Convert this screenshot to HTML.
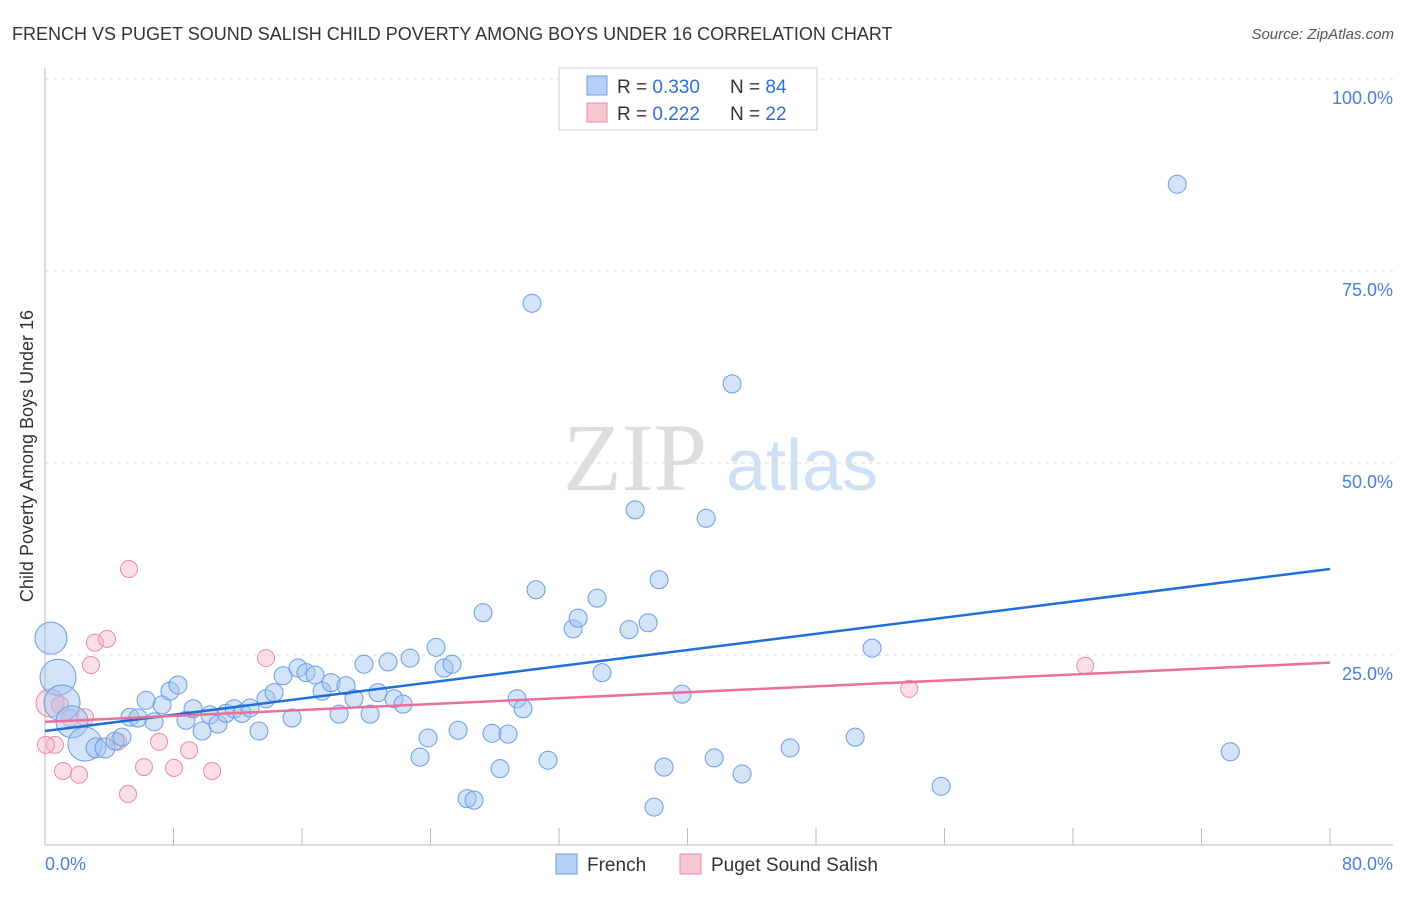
<!DOCTYPE html>
<html><head><meta charset="utf-8"><style>
body{margin:0;background:#fff;font-family:"Liberation Sans",sans-serif}
</style></head><body>
<svg width="1406" height="892" xmlns="http://www.w3.org/2000/svg" font-family="Liberation Sans, sans-serif">
<text x="12" y="40" font-size="18" fill="#333">FRENCH VS PUGET SOUND SALISH CHILD POVERTY AMONG BOYS UNDER 16 CORRELATION CHART</text>
<text x="1394" y="39" font-size="15" fill="#555" font-style="italic" text-anchor="end">Source: ZipAtlas.com</text>
<text transform="translate(33,456) rotate(-90)" font-size="18" fill="#333" text-anchor="middle">Child Poverty Among Boys Under 16</text>
<g>
<text x="635" y="490" font-size="96" fill="#ddd" font-family="Liberation Serif, serif" text-anchor="middle">ZIP</text>
<text x="802" y="490" font-size="72" fill="#cfe0f5" text-anchor="middle">atlas</text>
</g>
<g id="grid"></g>
<g id="axes"></g>
<g id="lines"></g>
<g id="pts"></g>
<g>
<rect x="559" y="68" width="258" height="62" fill="#fff" stroke="#ccc"/>
<rect x="587" y="76" width="20" height="19" fill="#b6d0f5" stroke="#6a9be0"/>
<rect x="587" y="103" width="20" height="19" fill="#f9c6d4" stroke="#e88aa8"/>
<text x="617" y="93" font-size="19" fill="#333">R = <tspan fill="#2f6fd6">0.330</tspan></text>
<text x="730" y="93" font-size="19" fill="#333">N = <tspan fill="#2f6fd6">84</tspan></text>
<text x="617" y="120" font-size="19" fill="#333">R =  <tspan fill="#2f6fd6">0.222</tspan></text>
<text x="730" y="120" font-size="19" fill="#333">N =  <tspan fill="#2f6fd6">22</tspan></text>
</g>
<g>
<rect x="556" y="854" width="21" height="20" fill="#b6d0f5" stroke="#6a9be0"/>
<text x="587" y="871" font-size="19" fill="#333">French</text>
<rect x="680" y="854" width="21" height="20" fill="#f9c6d4" stroke="#e88aa8"/>
<text x="711" y="871" font-size="19" fill="#333">Puget Sound Salish</text>
</g>
</svg>
<script>
const yTicks=[100,75,50,25];
const yTickLabels=["100.0%","75.0%","50.0%","25.0%"];
const blueX=[0.37,0.81,1.06,1.68,2.49,3.18,3.74,4.36,4.79,5.29,5.79,6.29,6.79,7.29,7.78,8.28,8.78,9.22,9.78,10.27,10.77,11.27,11.77,12.27,12.76,13.32,13.76,14.26,14.82,15.38,15.75,16.25,16.81,17.25,17.81,18.31,18.74,19.24,19.86,20.24,20.73,21.36,21.73,22.29,22.73,23.35,23.85,24.35,24.84,25.34,25.72,26.28,26.71,27.27,27.83,28.33,28.83,29.39,29.76,30.57,31.32,32.88,33.19,34.37,34.68,36.36,36.74,37.55,37.92,38.23,38.54,39.66,41.16,41.66,42.78,43.4,46.39,50.44,51.49,55.79,70.49,73.79,30.32];
const blueY=[27.2,22.1,18.75,16.3,13.4,12.9,12.9,13.8,14.3,16.9,16.8,19.1,16.3,18.5,20.3,21.1,16.5,18.0,15.1,17.2,16.0,17.4,18.0,17.4,18.1,15.1,19.3,20.1,22.3,16.8,23.3,22.7,22.4,20.3,21.4,17.3,21.0,19.3,23.8,17.3,20.1,24.1,19.3,18.6,24.6,11.7,14.2,26.0,23.3,23.8,15.2,6.3,6.1,30.5,14.8,10.2,14.7,19.3,18.0,33.5,11.3,28.4,29.8,32.4,22.7,28.3,43.9,29.2,5.2,34.8,10.4,19.9,42.8,11.6,60.3,9.5,12.9,14.3,25.9,7.9,86.3,12.4,70.8];
const blueSize=[16,18,18,16,17,10,10,9,9,9,9,9,9,9,9,9,9,9,9,9,9,9,9,9,9,9,9,9,9,9,9,9,9,9,9,9,9,9,9,9,9,9,9,9,9,9,9,9,9,9,9,9,9,9,9,9,9,9,9,9,9,9,9,9,9,9,9,9,9,9,9,9,9,9,9,9,9,9,9,9,9,9,9];
const pinkX=[0.31,0.62,1.12,1.56,2.12,2.49,2.86,3.11,3.86,4.55,5.23,5.17,6.16,7.10,8.03,8.97,10.40,13.76,53.8,64.76,0.06,0.93];
const pinkY=[18.75,13.3,9.9,16.8,9.4,16.9,23.7,26.6,27.1,13.7,36.2,6.9,10.4,13.7,10.3,12.6,9.9,24.6,20.6,23.6,13.3,18.5];
const blueTrend=[15.1,36.2];
const pinkTrend=[16.3,24.0];
const NS="http://www.w3.org/2000/svg";
const X=v=>45+v*16.0625, Y=v=>847-v*7.68;
function mk(t,a,p){const e=document.createElementNS(NS,t);for(const k in a)e.setAttribute(k,a[k]);document.getElementById(p).appendChild(e);return e;}
yTicks.forEach((t,i)=>{
 const g=mk('line',{x1:45,x2:1393,y1:Y(t),y2:Y(t),stroke:'#ddd','stroke-dasharray':'4,4'},'grid');
 
 
 const l=mk('text',{x:1393,y:Y(t)+25,'font-size':18,fill:'#4a7fd6','text-anchor':'end'},'grid');
 l.textContent=yTickLabels[i];
 
 
});
const ax=mk('line',{x1:45,x2:1393,y1:845,y2:845,stroke:'#bbb'},'axes');


const ay=mk('line',{x1:45,x2:45,y1:68,y2:845,stroke:'#bbb'},'axes');


for(let i=1;i<=10;i++){const t=mk('line',{x1:X(i*8),x2:X(i*8),y1:828,y2:845,stroke:'#bbb'},'axes');
 
 }
[["0.0%",45,"start"],["80.0%",1393,"end"]].forEach(d=>{const t=mk('text',{x:d[1],y:870,'font-size':18,fill:'#4a7fd6','text-anchor':d[2]},'axes');t.textContent=d[0];
 
 });
for(let i=0;i<pinkX.length;i++){const c=mk('circle',{cx:X(pinkX[i]),cy:Y(pinkY[i]),r:i==0?14:8.5,fill:'rgba(245,175,195,0.4)',stroke:'#e88aa8','stroke-width':1},'pts');
 
 }
for(let i=0;i<blueX.length;i++){const c=mk('circle',{cx:X(blueX[i]),cy:Y(blueY[i]),r:blueSize[i]||9,fill:'rgba(160,195,240,0.45)',stroke:'#6a9be0','stroke-width':1},'pts');
 
 }
const bl=mk('line',{x1:X(0),x2:X(80),y1:Y(blueTrend[0]),y2:Y(blueTrend[1]),stroke:'#1f6fdb','stroke-width':2.5},'pts');


const pl=mk('line',{x1:X(0),x2:X(80),y1:Y(pinkTrend[0]),y2:Y(pinkTrend[1]),stroke:'#e8709a','stroke-width':2.5},'pts');


</script>
</body></html>
